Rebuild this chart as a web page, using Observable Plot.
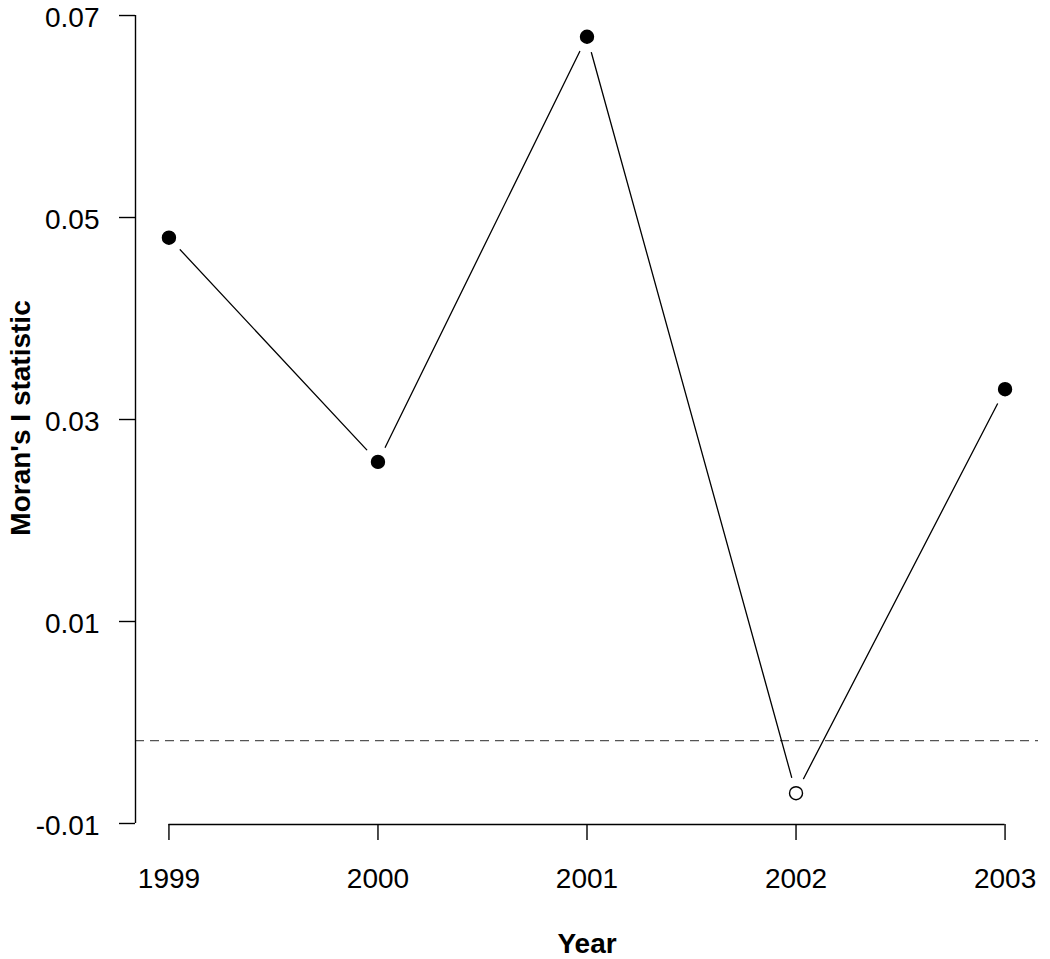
<!DOCTYPE html>
<html>
<head>
<meta charset="utf-8">
<script src="https://cdn.jsdelivr.net/npm/d3@7"></script>
<script src="https://cdn.jsdelivr.net/npm/@observablehq/plot@0.6"></script>
<style>
  html, body { margin: 0; padding: 0; background: #fff; }
  #chart svg { display: block; }
</style>
</head>
<body>
<div id="chart"></div>
<script>
// ---- data ----
const years = [1999, 2000, 2001, 2002, 2003];
const moranI = [0.0480, 0.0258, 0.0679, -0.0070, 0.0330];
const significant = [true, true, true, false, true];
const expectedI = -0.0018;
const yTicks = [-0.01, 0.01, 0.03, 0.05, 0.07];
const yTickLabels = ["-0.01", "0.01", "0.03", "0.05", "0.07"];
const xLabel = "Year";
const yLabel = "Moran's I statistic";

const data = years.map((y, i) => ({year: y, value: moranI[i], sig: significant[i]}));
const yTickData = yTicks.map((v, i) => ({value: v, label: yTickLabels[i]}));

// R-style 4% axis padding
const xPad = (d3.max(years) - d3.min(years)) * 0.04;
const xDomain = [d3.min(years) - xPad, d3.max(years) + xPad];
const yDomain = [-0.0101, 0.07119];

const font = "'Liberation Sans', Arial, Helvetica, sans-serif";

const chart = Plot.plot({
  width: 1050,
  height: 959,
  marginLeft: 135,
  marginRight: 12,
  marginTop: 3,
  marginBottom: 135,
  style: {fontFamily: font, background: "#fff", color: "#000"},
  x: {type: "linear", domain: xDomain},
  y: {type: "linear", domain: yDomain},
  marks: [
    // expected value reference line
    Plot.ruleY([expectedI], {stroke: "#555", strokeWidth: 1.3, strokeDasharray: "9,6"}),
    // connecting line
    Plot.line(data, {x: "year", y: "value", stroke: "#000", strokeWidth: 1.3}),
    // white gaps around points (R type = "b")
    Plot.dot(data, {x: "year", y: "value", r: 16, fill: "#fff", stroke: "none"}),
    // points
    Plot.dot(data, {x: "year", y: "value", r: 6.5, fill: d => d.sig ? "#000" : "#fff", stroke: "#000", strokeWidth: 1.4}),
    // y axis
    Plot.ruleX([xDomain[0]], {y1: d3.min(yTicks), y2: d3.max(yTicks), stroke: "#000", strokeWidth: 1.4}),
    Plot.axisY({ticks: yTicks, tickSize: 16, tickFormat: () => "", label: null, stroke: "#000", strokeWidth: 1.4}),
    Plot.text(yTickData, {x: xDomain[0], y: "value", text: "label", dx: -36, dy: 3, textAnchor: "end", fontSize: 28, fill: "#000"}),
    // x axis
    Plot.ruleY([yDomain[0]], {x1: d3.min(years), x2: d3.max(years), stroke: "#000", strokeWidth: 1.4}),
    Plot.axisX({ticks: years, tickSize: 16, tickPadding: 28, tickFormat: d => String(d), fontSize: 28, label: null, stroke: "#000", strokeWidth: 1.4}),
    // axis titles
    Plot.text([yLabel], {frameAnchor: "left", dx: -125, dy: 4, rotate: -90, textAnchor: "middle", lineAnchor: "top", fontSize: 28, fontWeight: "bold", fill: "#000"}),
    Plot.text([xLabel], {frameAnchor: "bottom", dy: 128, textAnchor: "middle", lineAnchor: "bottom", fontSize: 28, fontWeight: "bold", fill: "#000"})
  ]
});

document.getElementById("chart").appendChild(chart);
</script>
</body>
</html>
